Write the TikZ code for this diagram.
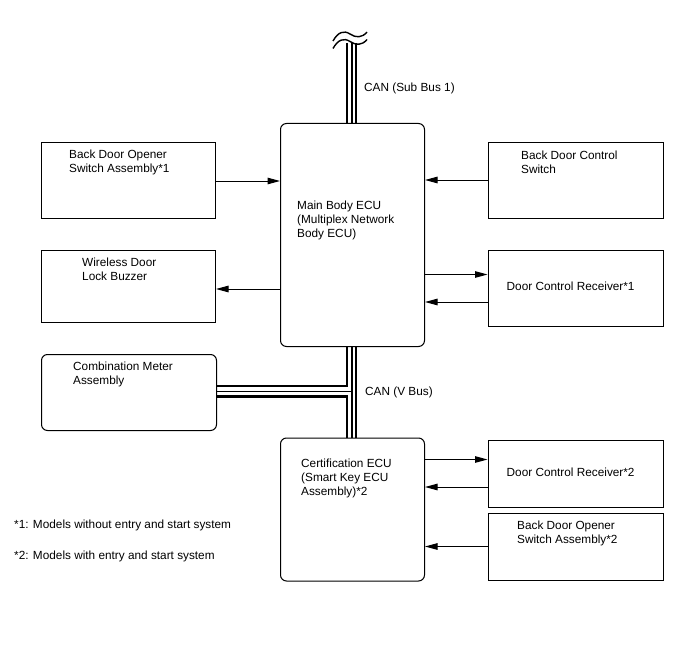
\documentclass[tikz,border=0pt]{standalone}
\usepackage{fontspec}
\setmainfont{Liberation Sans}
\usetikzlibrary{arrows.meta}
\begin{document}
\begin{tikzpicture}[x=1pt,y=-1pt,
  box/.style={draw, line width=1pt, inner sep=0pt, anchor=north west},
  rbox/.style={box, rounded corners=6pt},
  txt/.style={anchor=north west, inner sep=0pt, align=left, font=\fontsize{11.8}{14}\selectfont},
  arr/.style={line width=1pt, -{Triangle[length=12.5pt,width=6.5pt]}},
  bthick/.style={line width=2.8pt, line join=miter},
  bthin/.style={line width=1.2pt},
  bmed/.style={line width=1.6pt},
  wave/.style={line width=1.4pt}]
\useasboundingbox (0,0) rectangle (688,658);

% boxes
\node[box, minimum width=174pt, minimum height=76pt] (bdo1) at (41,142) {};
\node[box, minimum width=174pt, minimum height=72pt] (buzz) at (41,250) {};
\node[rbox, minimum width=175pt, minimum height=76pt] (meter) at (41,354) {};
\node[rbox, minimum width=144pt, minimum height=223pt] (main) at (280,123) {};
\node[rbox, minimum width=144pt, minimum height=143pt] (cert) at (280,437.5) {};
\node[box, minimum width=175pt, minimum height=76pt] (bdcs) at (487.5,142) {};
\node[box, minimum width=175pt, minimum height=76pt] (dcr1) at (487.5,250) {};
\node[box, minimum width=175pt, minimum height=67pt] (dcr2) at (487.5,439.5) {};
\node[box, minimum width=175pt, minimum height=67pt] (bdo2) at (487.5,513) {};

% texts
\node[txt] (tbdo1) at (69,149.5) {Back Door Opener\\Switch Assembly*1};
\node[txt] (tbuzz) at (82,257.5) {Wireless Door\\Lock Buzzer};
\node[txt] (tmeter) at (73,362) {Combination Meter\\Assembly};
\node[txt] (tmain) at (297,200.5) {Main Body ECU\\(Multiplex Network\\Body ECU)};
\node[txt] (tcert) at (301,458.5) {Certification ECU\\(Smart Key ECU\\Assembly)*2};
\node[txt] (tbdcs) at (521,151) {Back Door Control\\Switch};
\node[txt] (tdcr1) at (506.5,282) {Door Control Receiver*1};
\node[txt] (tdcr2) at (506.5,468) {Door Control Receiver*2};
\node[txt] (tbdo2) at (517,520.5) {Back Door Opener\\Switch Assembly*2};
\node[txt] (tcan1) at (364,82.5) {CAN (Sub Bus 1)};
\node[txt] (tcan2) at (365,386.5) {CAN (V Bus)};
\node[txt] (fn1) at (14,519.5) {*1: Models without entry and start system};
\node[txt] (fn2) at (14,550.5) {*2: Models with entry and start system};

% top bus with break mark
\coordinate (bustop) at (352,43);
\draw[bthick] (bustop -| 347,0) -- (main.north -| 347,0);
\draw[bthin] (bustop) -- (main.north -| 352,0);
\draw[bmed] (bustop -| 356,0) -- (main.north -| 356,0);
\draw[wave] (333,41) .. controls (338,32) and (344,30) .. (350,34) .. controls (356,38) and (362,38) .. (367,32);
\draw[wave] (333,48.5) .. controls (338,39.5) and (344,37.5) .. (350,41.5) .. controls (356,45.5) and (362,45.5) .. (367,39.5);

% V bus with T junction to combination meter
\draw[bthick] (main.south -| 347,0) -- (347,386) -- (meter.east |- 0,386);
\draw[bthick] (meter.east |- 0,396.5) -- (347,396.5) -- (cert.north -| 347,0);
\draw[bthin] (main.south -| 352,0) -- (cert.north -| 352,0);
\draw[bthin] (meter.east |- 0,391.2) -- (352,391.2);
\draw[bmed] (main.south -| 356,0) -- (cert.north -| 356,0);

% arrows
\draw[arr] (bdo1.east |- 0,181) -- (main.west |- 0,181);
\draw[arr] (main.west |- 0,289) -- (buzz.east |- 0,289);
\draw[arr] (bdcs.west |- 0,180) -- (main.east |- 0,180);
\draw[arr] (main.east |- 0,274.5) -- (dcr1.west |- 0,274.5);
\draw[arr] (dcr1.west |- 0,302) -- (main.east |- 0,302);
\draw[arr] (cert.east |- 0,459.5) -- (dcr2.west |- 0,459.5);
\draw[arr] (dcr2.west |- 0,487) -- (cert.east |- 0,487);
\draw[arr] (bdo2.west |- 0,546.5) -- (cert.east |- 0,546.5);
\end{tikzpicture}
\end{document}
